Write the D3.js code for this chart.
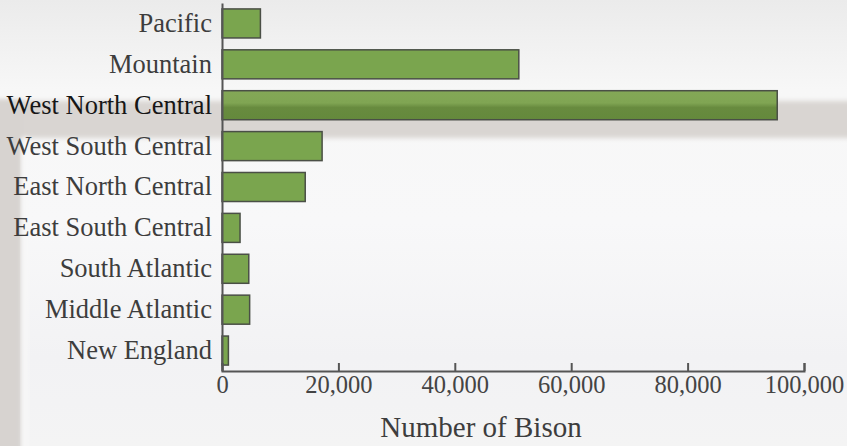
<!DOCTYPE html>
<html>
<head>
<meta charset="utf-8">
<script src="https://cdn.jsdelivr.net/npm/d3@7"></script>
<style>
  html, body { margin: 0; padding: 0; background: #f4f4f4; }
  svg { display: block; }
  text { font-family: "Liberation Serif", "Times New Roman", serif; }
</style>
</head>
<body>
<svg id="chart" width="847" height="446"></svg>
<script>
// Bison counts by US census division
const regions = ["Pacific", "Mountain", "West North Central", "West South Central",
  "East North Central", "East South Central", "South Atlantic", "Middle Atlantic", "New England"];
const bison = [6600, 51000, 95400, 17200, 14300, 3100, 4600, 4750, 1100];
const xTicks = [0, 20000, 40000, 60000, 80000, 100000];
const xTitle = "Number of Bison";
const highlighted = "West North Central";

const W = 847, H = 446;
const svg = d3.select("#chart");
const defs = svg.append("defs");

// soft photographic backdrop
const blur = defs.append("filter").attr("id", "soft").attr("x", "-20%").attr("y", "-50%")
  .attr("width", "140%").attr("height", "200%");
blur.append("feGaussianBlur").attr("stdDeviation", 2.5);

const vGrad = defs.append("linearGradient").attr("id", "vShade")
  .attr("x1", 0).attr("y1", 0).attr("x2", 0).attr("y2", 1);
[[0, "#ebebeb"], [0.2, "#f7f7f7"], [0.5, "#f8f8f9"], [0.8, "#f2f2f4"], [1, "#f4f4f4"]]
  .forEach(([o, c]) => vGrad.append("stop").attr("offset", o).attr("stop-color", c));

const bg = svg.append("g");
bg.append("rect").attr("width", W).attr("height", H).attr("fill", "url(#vShade)");
bg.append("rect").attr("x", -10).attr("y", 101).attr("width", W + 20).attr("height", 37)
  .attr("fill", "#d9d5d2").attr("filter", "url(#soft)");
bg.append("rect").attr("x", -10).attr("y", 100).attr("width", 32).attr("height", H)
  .attr("fill", "#d7d3d0").attr("filter", "url(#soft)");
bg.append("rect").attr("x", 22).attr("y", 138).attr("width", 6).attr("height", H)
  .attr("fill", "#f8f8f8").attr("filter", "url(#soft)");

const margin = { top: 3, right: 43, bottom: 75, left: 222 };
const x = d3.scaleLinear().domain([0, 100000]).range([margin.left, W - margin.right]);
const y = d3.scaleBand().domain(regions).range([margin.top, H - margin.bottom])
  .paddingInner(0.29).paddingOuter(0.145);

// shaded lower half for the bar lying in the dark band
const barGrad = defs.append("linearGradient").attr("id", "barShade")
  .attr("gradientUnits", "userSpaceOnUse").attr("x1", 0).attr("x2", 0)
  .attr("y1", y(highlighted)).attr("y2", y(highlighted) + y.bandwidth());
barGrad.append("stop").attr("offset", 0).attr("stop-color", "#84a857");
barGrad.append("stop").attr("offset", 0.42).attr("stop-color", "#80a553");
barGrad.append("stop").attr("offset", 0.58).attr("stop-color", "#688b3f");
barGrad.append("stop").attr("offset", 1).attr("stop-color", "#64893c");

svg.append("g").selectAll("rect").data(regions).join("rect")
  .attr("x", x(0))
  .attr("y", d => y(d))
  .attr("width", (d, i) => x(bison[i]) - x(0))
  .attr("height", y.bandwidth())
  .attr("fill", d => d === highlighted ? "url(#barShade)" : "#7aa54e")
  .attr("stroke", "#4a4f46")
  .attr("stroke-width", 1.5);

// y axis: line only, labels to the left
const yAxis = svg.append("g").attr("transform", `translate(${x(0)},0)`)
  .call(d3.axisLeft(y).tickSize(0).tickPadding(10));
yAxis.select(".domain").attr("stroke", "#555").attr("stroke-width", 2);
yAxis.selectAll("text").attr("font-size", 26.5)
  .attr("fill", d => d === highlighted ? "#161616" : "#3d3d3d");

// x axis: ticks pointing up into the plot
const xAxis = svg.append("g").attr("transform", `translate(0,${H - margin.bottom})`)
  .call(d3.axisBottom(x).tickValues(xTicks).tickFormat(d3.format(",")).tickSize(-8).tickSizeOuter(-8).tickPadding(5));
xAxis.select(".domain").attr("stroke", "#555").attr("stroke-width", 2);
xAxis.selectAll(".tick line").attr("stroke", "#555").attr("stroke-width", 2);
xAxis.selectAll("text").attr("font-size", 24.5).attr("fill", "#444");

svg.append("text").attr("x", 481).attr("y", 437).attr("text-anchor", "middle")
  .attr("font-size", 29).attr("fill", "#3d3d3d").text(xTitle);
</script>
</body>
</html>
